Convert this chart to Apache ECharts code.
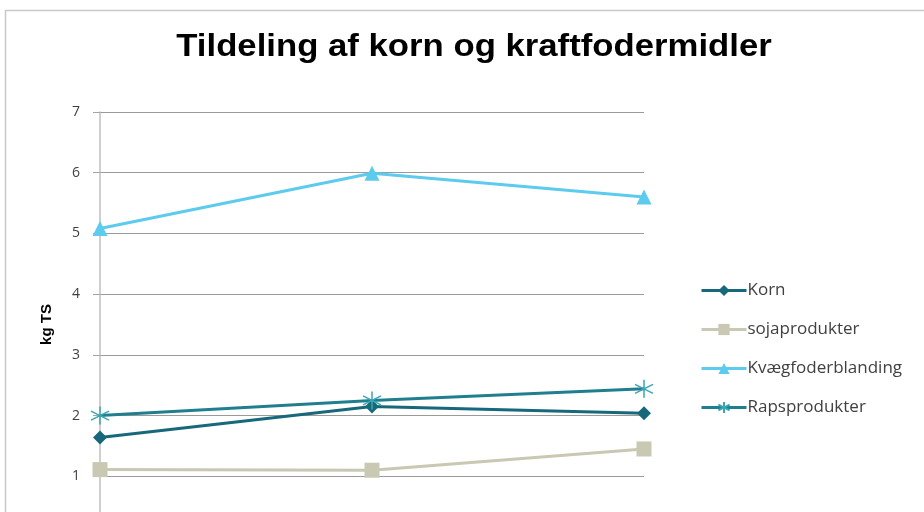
<!DOCTYPE html>
<html><head><meta charset="utf-8">
<script src="https://cdn.jsdelivr.net/npm/echarts@6/dist/echarts.min.js"></script>
<style>html,body{margin:0;padding:0;overflow:hidden;background:#fff;width:924px;height:512px}#c{width:924px;height:560px}</style>
</head><body><div id="c"></div>
<script>
const categories = ['1', '2', '3'];
const korn = [1.64, 2.15, 2.04];
const soja = [1.11, 1.10, 1.45];
const kvaeg = [5.08, 5.99, 5.60];
const raps = [2.00, 2.25, 2.44];
const yTicks = [0, 1, 2, 3, 4, 5, 6, 7];
const titleText = 'Tildeling af korn og kraftfodermidler';

const chart = echarts.init(document.getElementById('c'));
const star = 'path://M10,0L10,20M1.34,5L18.66,15M1.34,15L18.66,5';
chart.setOption({
  animation: false,
  backgroundColor: '#fff',
  graphic: [
    {type: 'rect', shape: {x: 5.5, y: 10.5, width: 1000, height: 1000}, style: {fill: null, stroke: '#c8c8c8', lineWidth: 1.5}},
    {type: 'text', x: 474, y: 47, scaleX: 1.12,
     style: {text: titleText, align: 'center', verticalAlign: 'middle',
             font: 'bold 31px "Liberation Sans"', fill: '#000'}}
  ],
  legend: {
    orient: 'vertical', left: 695, top: 277, itemGap: 22, itemWidth: 45, itemHeight: 14,
    lineStyle: {width: 3},
    textStyle: {fontFamily: 'Open Sans', fontSize: 17, color: '#404040', padding: [0, 0, 0, -4]}
  },
  grid: {left: 100, right: 280, top: 112, bottom: 23},
  xAxis: {
    type: 'category', data: categories, boundaryGap: false,
    axisLine: {lineStyle: {color: '#bfbfbf'}}, axisTick: {show: false},
    axisLabel: {color: '#404040'}
  },
  yAxis: {
    type: 'value', min: yTicks[0], max: yTicks[yTicks.length - 1], interval: 1,
    name: 'kg TS', nameLocation: 'middle', nameGap: 46, nameRotate: 90,
    nameTextStyle: {fontFamily: 'Liberation Sans', fontWeight: 'bold', fontSize: 15, color: '#000'},
    axisLine: {show: true, lineStyle: {color: '#bfbfbf', width: 1.5}},
    axisTick: {show: true, length: 7, lineStyle: {color: '#a6a6a6'}},
    axisLabel: {fontFamily: 'Open Sans', fontSize: 14, color: '#404040', margin: 20},
    splitLine: {lineStyle: {color: '#9a9a9a', width: 1}}
  },
  series: [
    {name: 'Korn', type: 'line', data: korn, symbol: 'diamond', symbolSize: 14,
     lineStyle: {color: '#17687a', width: 3}, itemStyle: {color: '#17687a'}},
    {name: 'sojaprodukter', type: 'line', data: soja, symbol: 'rect', symbolSize: 15,
     lineStyle: {color: '#c9c8b2', width: 3}, itemStyle: {color: '#c9c8b2'}},
    {name: 'Kvægfoderblanding', type: 'line', data: kvaeg, symbol: 'triangle', symbolSize: 15,
     lineStyle: {color: '#5ccbee', width: 3}, itemStyle: {color: '#5ccbee'}},
    {name: 'Rapsprodukter', type: 'line', data: raps, symbol: star, symbolSize: 18,
     lineStyle: {color: '#1f7f8e', width: 3}, itemStyle: {color: 'none', borderColor: '#3aa6b4', borderWidth: 1.5}}
  ]
});
</script></body></html>
